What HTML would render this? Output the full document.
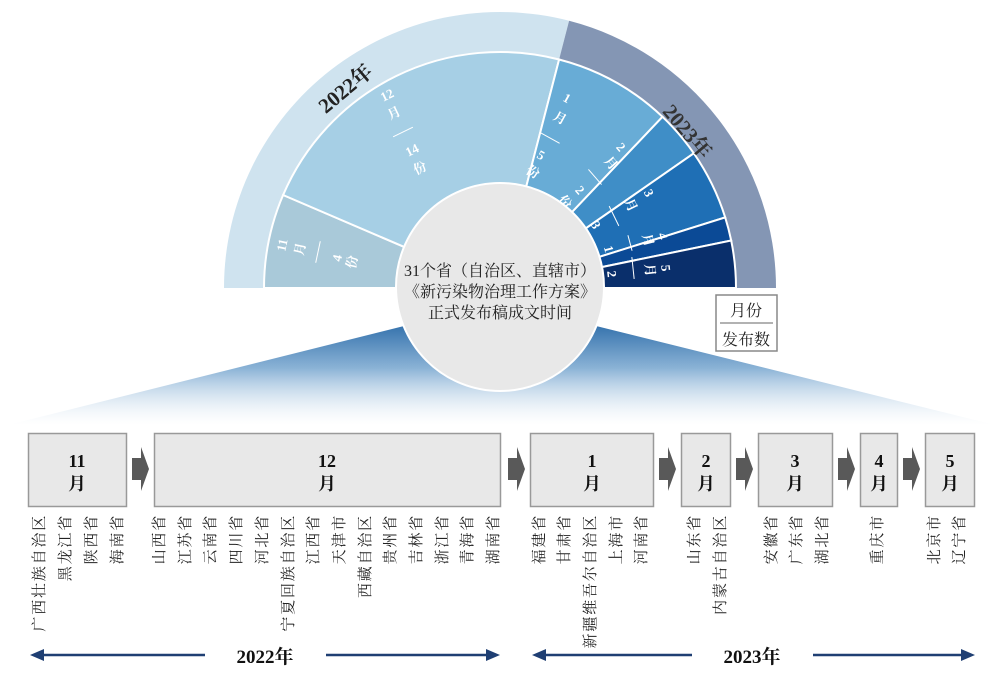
<!DOCTYPE html>
<html><head><meta charset="utf-8"><style>
html,body{margin:0;padding:0;background:#fff;}
svg{display:block;}
.w{font-family:"Liberation Serif","Noto Serif CJK SC",serif;font-size:13px;font-weight:bold;fill:#fff;text-anchor:middle;dominant-baseline:central;}
.v{font-family:"Liberation Serif","Noto Serif CJK SC",serif;font-size:15px;fill:#222;text-anchor:end;dominant-baseline:central;letter-spacing:1.8px;}
.m{font-family:"Liberation Serif","Noto Serif CJK SC",serif;font-size:18px;font-weight:bold;fill:#111;text-anchor:middle;}
.c{font-family:"Liberation Serif","Noto Serif CJK SC",serif;font-size:16px;fill:#222;text-anchor:middle;}
</style></head><body>
<svg width="1004" height="682" viewBox="0 0 1004 682" xmlns="http://www.w3.org/2000/svg">
<defs>
<linearGradient id="fan" x1="0" y1="0" x2="0" y2="1">
<stop offset="0" stop-color="#2f6eaa"/>
<stop offset="0.45" stop-color="#8bb3d6"/>
<stop offset="1" stop-color="#ffffff" stop-opacity="0.3"/>
</linearGradient>
</defs>
<polygon points="420,322 580,322 995,425 8,425" fill="url(#fan)"/>
<path d="M500,288 L224,288 A276,276 0 0,1 569.1,20.8 Z" fill="#cfe3ef"/>
<path d="M500,288 L569.1,20.8 A276,276 0 0,1 776,288 Z" fill="#8496b4"/>
<g stroke="#fff" stroke-width="2">
<path d="M500,288 L264,288 A236,236 0 0,1 283.1,195 Z" fill="#a9c9d9"/>
<path d="M500,288 L283.1,195 A236,236 0 0,1 559.1,59.5 Z" fill="#a6cfe5"/>
<path d="M500,288 L559.1,59.5 A236,236 0 0,1 662.5,116.8 Z" fill="#68acd6"/>
<path d="M500,288 L662.5,116.8 A236,236 0 0,1 693.8,153.3 Z" fill="#3f8ec7"/>
<path d="M500,288 L693.8,153.3 A236,236 0 0,1 725.2,217.4 Z" fill="#1f6fb5"/>
<path d="M500,288 L725.2,217.4 A236,236 0 0,1 731.2,240.5 Z" fill="#0b4a96"/>
<path d="M500,288 L731.2,240.5 A236,236 0 0,1 736,288 Z" fill="#0a2f6b"/>
</g>
<rect x="220" y="289" width="560" height="4" fill="#fff"/>
<g>
<text class="w" x="282" y="245" transform="rotate(-78 282 245)">11</text>
<text class="w" x="300" y="249" transform="rotate(-78 300 249)">月</text>
<line x1="307" y1="252" x2="329" y2="252" stroke="#fff" transform="rotate(-78 318 252)"/>
<text class="w" x="337" y="258" transform="rotate(-78 337 258)">4</text>
<text class="w" x="352" y="262" transform="rotate(-78 352 262)">份</text>

<text class="w" x="387" y="95" transform="rotate(-26 387 95)">12</text>
<text class="w" x="394" y="113" transform="rotate(-26 394 113)">月</text>
<line x1="392" y1="132" x2="414" y2="132" stroke="#fff" transform="rotate(-26 403 132)"/>
<text class="w" x="412" y="150" transform="rotate(-26 412 150)">14</text>
<text class="w" x="420" y="168" transform="rotate(-26 420 168)">份</text>

<text class="w" x="567" y="98" transform="rotate(29 567 98)">1</text>
<text class="w" x="560" y="118" transform="rotate(29 560 118)">月</text>
<line x1="539" y1="138" x2="561" y2="138" stroke="#fff" transform="rotate(29 550 138)"/>
<text class="w" x="541" y="155" transform="rotate(29 541 155)">5</text>
<text class="w" x="533" y="172" transform="rotate(29 533 172)">份</text>

<text class="w" x="621" y="147" transform="rotate(49 621 147)">2</text>
<text class="w" x="611" y="163" transform="rotate(49 611 163)">月</text>
<line x1="585" y1="177" x2="605" y2="177" stroke="#fff" transform="rotate(49 595 177)"/>
<text class="w" x="580" y="190" transform="rotate(49 580 190)">2</text>
<text class="w" x="565" y="202" transform="rotate(49 565 202)">份</text>

<text class="w" x="649" y="193" transform="rotate(64 649 193)">3</text>
<text class="w" x="631" y="205" transform="rotate(64 631 205)">月</text>
<line x1="603" y1="216" x2="625" y2="216" stroke="#fff" transform="rotate(64 614 216)"/>
<text class="w" x="596" y="225" transform="rotate(64 596 225)">3</text>
<text class="w" x="580" y="232" transform="rotate(64 580 232)">份</text>

<text class="w" x="663" y="236" transform="rotate(75 663 236)">4</text>
<text class="w" x="648" y="240" transform="rotate(75 648 240)">月</text>
<line x1="622" y1="243" x2="638" y2="243" stroke="#fff" transform="rotate(75 630 243)"/>
<text class="w" x="609" y="249" transform="rotate(75 609 249)">1</text>
<text class="w" x="592" y="254" transform="rotate(75 592 254)">份</text>

<text class="w" x="666" y="268" transform="rotate(84 666 268)">5</text>
<text class="w" x="650" y="270" transform="rotate(84 650 270)">月</text>
<line x1="622" y1="268" x2="644" y2="268" stroke="#fff" transform="rotate(84 633 268)"/>
<text class="w" x="612" y="274" transform="rotate(84 612 274)">2</text>
<text class="w" x="594" y="277" transform="rotate(84 594 277)">份</text>
</g>
<text x="350" y="94" font-family="Liberation Serif,Noto Serif CJK SC,serif" font-size="21" font-weight="bold" fill="#222" text-anchor="middle" transform="rotate(-40 350 94)">2022年</text>
<text x="682" y="136" font-family="Liberation Serif,Noto Serif CJK SC,serif" font-size="21" font-weight="bold" fill="#333" text-anchor="middle" transform="rotate(50 682 136)">2023年</text>
<circle cx="500" cy="287" r="104" fill="#e8e8e8" stroke="#fff" stroke-width="2"/>
<text class="c" x="500" y="276">31个省（自治区、直辖市）</text>
<text class="c" x="500" y="297">《新污染物治理工作方案》</text>
<text class="c" x="500" y="318">正式发布稿成文时间</text>
<rect x="716" y="295" width="61" height="56" fill="#fff" stroke="#888" stroke-width="1.5"/>
<line x1="720" y1="323" x2="773" y2="323" stroke="#666"/>
<text class="c" x="746" y="316">月份</text>
<text class="c" x="746" y="345">发布数</text>
<g fill="#e8e8e8" stroke="#999" stroke-width="1.5">
<rect x="28.5" y="433.5" width="98" height="73"/>
<rect x="154.5" y="433.5" width="346" height="73"/>
<rect x="530.5" y="433.5" width="123" height="73"/>
<rect x="681.5" y="433.5" width="49" height="73"/>
<rect x="758.5" y="433.5" width="74" height="73"/>
<rect x="860.5" y="433.5" width="37" height="73"/>
<rect x="925.5" y="433.5" width="49" height="73"/>
</g>
<g>
<text class="m" x="77" y="467">11</text><text class="m" x="77" y="490">月</text>
<text class="m" x="327" y="467">12</text><text class="m" x="327" y="490">月</text>
<text class="m" x="592" y="467">1</text><text class="m" x="592" y="490">月</text>
<text class="m" x="706" y="467">2</text><text class="m" x="706" y="490">月</text>
<text class="m" x="795" y="467">3</text><text class="m" x="795" y="490">月</text>
<text class="m" x="879" y="467">4</text><text class="m" x="879" y="490">月</text>
<text class="m" x="950" y="467">5</text><text class="m" x="950" y="490">月</text>
</g>
<g fill="#595959">
<polygon points="132,458 141,458 141,447 149,469 141,491 141,480 132,480"/>
<polygon points="508,458 517,458 517,447 525,469 517,491 517,480 508,480"/>
<polygon points="659,458 668,458 668,447 676,469 668,491 668,480 659,480"/>
<polygon points="736,458 745,458 745,447 753,469 745,491 745,480 736,480"/>
<polygon points="838,458 847,458 847,447 855,469 847,491 847,480 838,480"/>
<polygon points="903,458 912,458 912,447 920,469 912,491 912,480 903,480"/>
</g>
<g>
<text class="v" x="40" y="514" transform="rotate(-90 40 514)">广西壮族自治区</text>
<text class="v" x="66" y="514" transform="rotate(-90 66 514)">黑龙江省</text>
<text class="v" x="92" y="514" transform="rotate(-90 92 514)">陕西省</text>
<text class="v" x="118" y="514" transform="rotate(-90 118 514)">海南省</text>
<text class="v" x="160" y="514" transform="rotate(-90 160 514)">山西省</text>
<text class="v" x="186" y="514" transform="rotate(-90 186 514)">江苏省</text>
<text class="v" x="211" y="514" transform="rotate(-90 211 514)">云南省</text>
<text class="v" x="237" y="514" transform="rotate(-90 237 514)">四川省</text>
<text class="v" x="263" y="514" transform="rotate(-90 263 514)">河北省</text>
<text class="v" x="289" y="514" transform="rotate(-90 289 514)">宁夏回族自治区</text>
<text class="v" x="314" y="514" transform="rotate(-90 314 514)">江西省</text>
<text class="v" x="340" y="514" transform="rotate(-90 340 514)">天津市</text>
<text class="v" x="366" y="514" transform="rotate(-90 366 514)">西藏自治区</text>
<text class="v" x="391" y="514" transform="rotate(-90 391 514)">贵州省</text>
<text class="v" x="417" y="514" transform="rotate(-90 417 514)">吉林省</text>
<text class="v" x="443" y="514" transform="rotate(-90 443 514)">浙江省</text>
<text class="v" x="468" y="514" transform="rotate(-90 468 514)">青海省</text>
<text class="v" x="494" y="514" transform="rotate(-90 494 514)">湖南省</text>
<text class="v" x="540" y="514" transform="rotate(-90 540 514)">福建省</text>
<text class="v" x="565" y="514" transform="rotate(-90 565 514)">甘肃省</text>
<text class="v" x="591" y="514" transform="rotate(-90 591 514)">新疆维吾尔自治区</text>
<text class="v" x="617" y="514" transform="rotate(-90 617 514)">上海市</text>
<text class="v" x="642" y="514" transform="rotate(-90 642 514)">河南省</text>
<text class="v" x="695" y="514" transform="rotate(-90 695 514)">山东省</text>
<text class="v" x="721" y="514" transform="rotate(-90 721 514)">内蒙古自治区</text>
<text class="v" x="772" y="514" transform="rotate(-90 772 514)">安徽省</text>
<text class="v" x="797" y="514" transform="rotate(-90 797 514)">广东省</text>
<text class="v" x="823" y="514" transform="rotate(-90 823 514)">湖北省</text>
<text class="v" x="878" y="514" transform="rotate(-90 878 514)">重庆市</text>
<text class="v" x="935" y="514" transform="rotate(-90 935 514)">北京市</text>
<text class="v" x="960" y="514" transform="rotate(-90 960 514)">辽宁省</text>
</g>
<g stroke="#1f3f73" stroke-width="2.5">
<line x1="40" y1="655" x2="205" y2="655"/>
<line x1="326" y1="655" x2="490" y2="655"/>
<line x1="542" y1="655" x2="692" y2="655"/>
<line x1="813" y1="655" x2="965" y2="655"/>
</g>
<g fill="#1f3f73">
<polygon points="30,655 44,649 44,661"/>
<polygon points="500,655 486,649 486,661"/>
<polygon points="532,655 546,649 546,661"/>
<polygon points="975,655 961,649 961,661"/>
</g>
<text x="265" y="663" font-family="Liberation Serif,Noto Serif CJK SC,serif" font-size="19" font-weight="bold" fill="#111" text-anchor="middle">2022年</text>
<text x="752" y="663" font-family="Liberation Serif,Noto Serif CJK SC,serif" font-size="19" font-weight="bold" fill="#111" text-anchor="middle">2023年</text>
</svg>
</body></html>
